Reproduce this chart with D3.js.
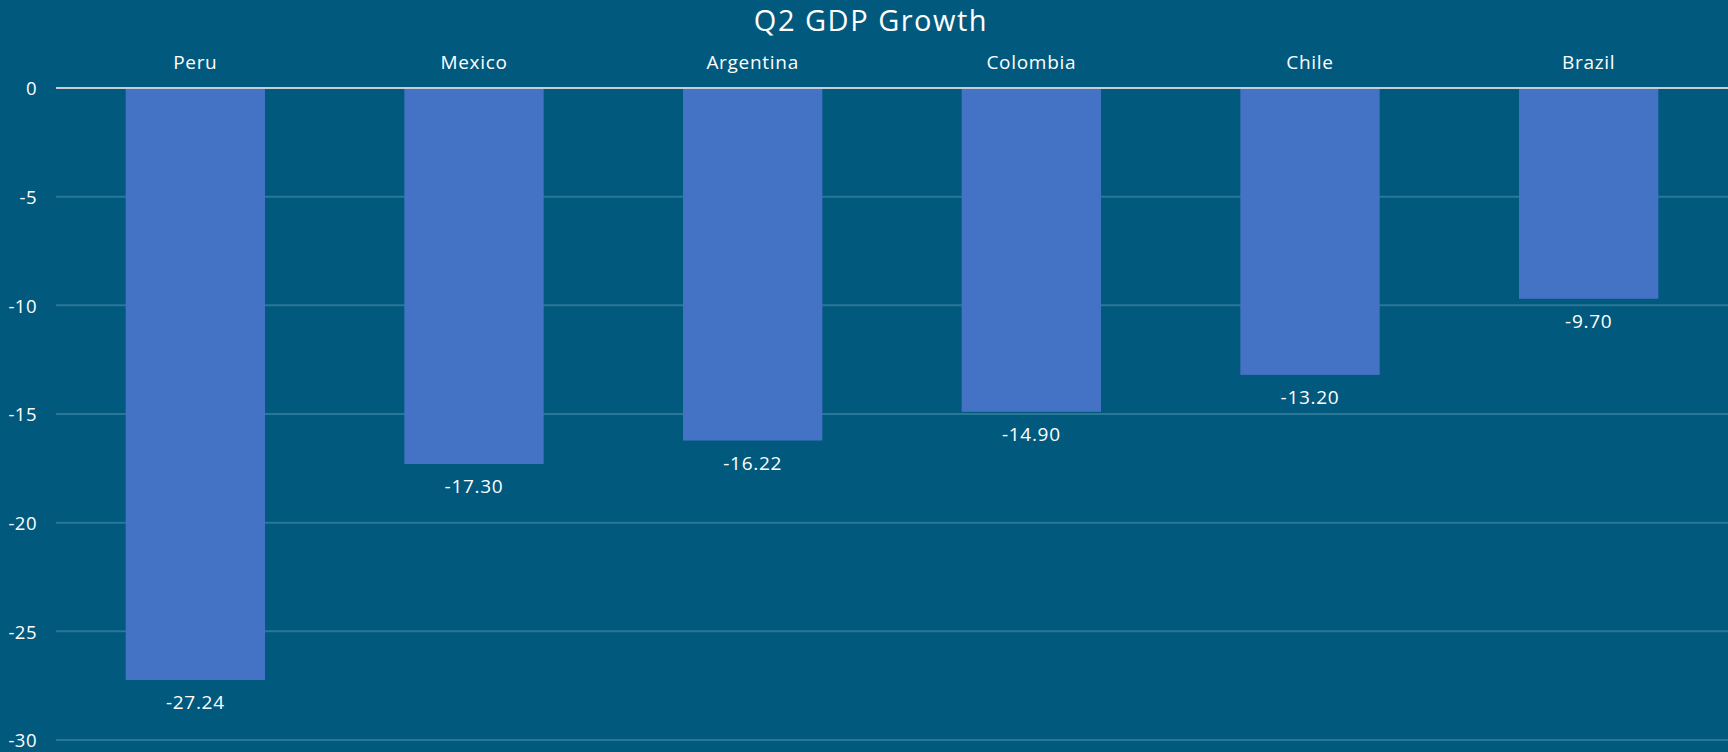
<!DOCTYPE html>
<html>
<head>
<meta charset="utf-8">
<script src="https://cdn.jsdelivr.net/npm/d3@7"></script>
<style>
  html, body { margin: 0; padding: 0; background: #01597e; }
  svg { display: block; }
  text { font-family: "Open Sans", Lato, sans-serif; font-weight: 400; fill: #ffffff; }
</style>
</head>
<body>
<svg id="chart" width="1728" height="752"></svg>
<script>
// Q2 GDP growth, percent change
const countries = ["Peru", "Mexico", "Argentina", "Colombia", "Chile", "Brazil"];
const growth = [-27.24, -17.30, -16.22, -14.90, -13.20, -9.70];
const yTicks = [0, -5, -10, -15, -20, -25, -30];
const chartTitle = "Q2 GDP Growth";

const W = 1728, H = 752;
const margin = { top: 88, right: 0, bottom: 12, left: 56 };

// plain hyphen for negative numbers
const hyphen = s => s.replace("\u2212", "-");
const fmtInt = d => hyphen(d3.format("d")(d));
const fmtVal = d => hyphen(d3.format(".2f")(d));

const svg = d3.select("#chart");

const x = d3.scaleBand()
  .domain(countries)
  .range([margin.left, W - margin.right])
  .paddingInner(0.5)
  .paddingOuter(0.25);

const y = d3.scaleLinear()
  .domain([0, -30])
  .range([margin.top, 740]);

// horizontal gridlines
svg.append("g")
  .selectAll("line")
  .data(yTicks.filter(t => t !== 0))
  .join("line")
  .attr("x1", margin.left)
  .attr("x2", W)
  .attr("y1", d => y(d))
  .attr("y2", d => y(d))
  .attr("stroke", "#2b7797")
  .attr("stroke-width", 2);

// y axis labels
const yAxis = d3.axisLeft(y).tickValues(yTicks).tickSize(0).tickPadding(19).tickFormat(fmtInt);
const gy = svg.append("g").attr("transform", `translate(${margin.left},0)`).call(yAxis);
gy.select(".domain").remove();
gy.selectAll("text")
  .attr("font-size", 18.5)
  .attr("font-family", "\"Open Sans\", sans-serif")
  .attr("font-weight", 400)
  .attr("letter-spacing", 0.5)
  .attr("fill", "#ffffff")
  .attr("dy", "0.36em");

// bars
svg.append("g")
  .selectAll("rect")
  .data(countries)
  .join("rect")
  .attr("x", d => x(d))
  .attr("width", x.bandwidth())
  .attr("y", y(0))
  .attr("height", (d, i) => y(growth[i]) - y(0))
  .attr("fill", "#4472c4");

// zero line
svg.append("line")
  .attr("x1", margin.left)
  .attr("x2", W)
  .attr("y1", y(0))
  .attr("y2", y(0))
  .attr("stroke", "#c9cdd2")
  .attr("stroke-width", 2);

// category labels above the zero line
svg.append("g")
  .selectAll("text")
  .data(countries)
  .join("text")
  .attr("x", d => x(d) + x.bandwidth() / 2)
  .attr("y", 69)
  .attr("text-anchor", "middle")
  .attr("font-size", 19)
  .attr("letter-spacing", 0.7)
  .text(d => d);

// value labels under each bar
svg.append("g")
  .selectAll("text")
  .data(countries)
  .join("text")
  .attr("x", d => x(d) + x.bandwidth() / 2)
  .attr("y", (d, i) => y(growth[i]) + 29)
  .attr("text-anchor", "middle")
  .attr("font-size", 19)
  .attr("letter-spacing", 0.7)
  .text((d, i) => fmtVal(growth[i]));

// title
svg.append("text")
  .attr("x", 871)
  .attr("y", 31)
  .attr("text-anchor", "middle")
  .attr("font-size", 29)
  .attr("font-weight", 300)
  .attr("letter-spacing", 1.5)
  .text(chartTitle);
</script>
</body>
</html>
